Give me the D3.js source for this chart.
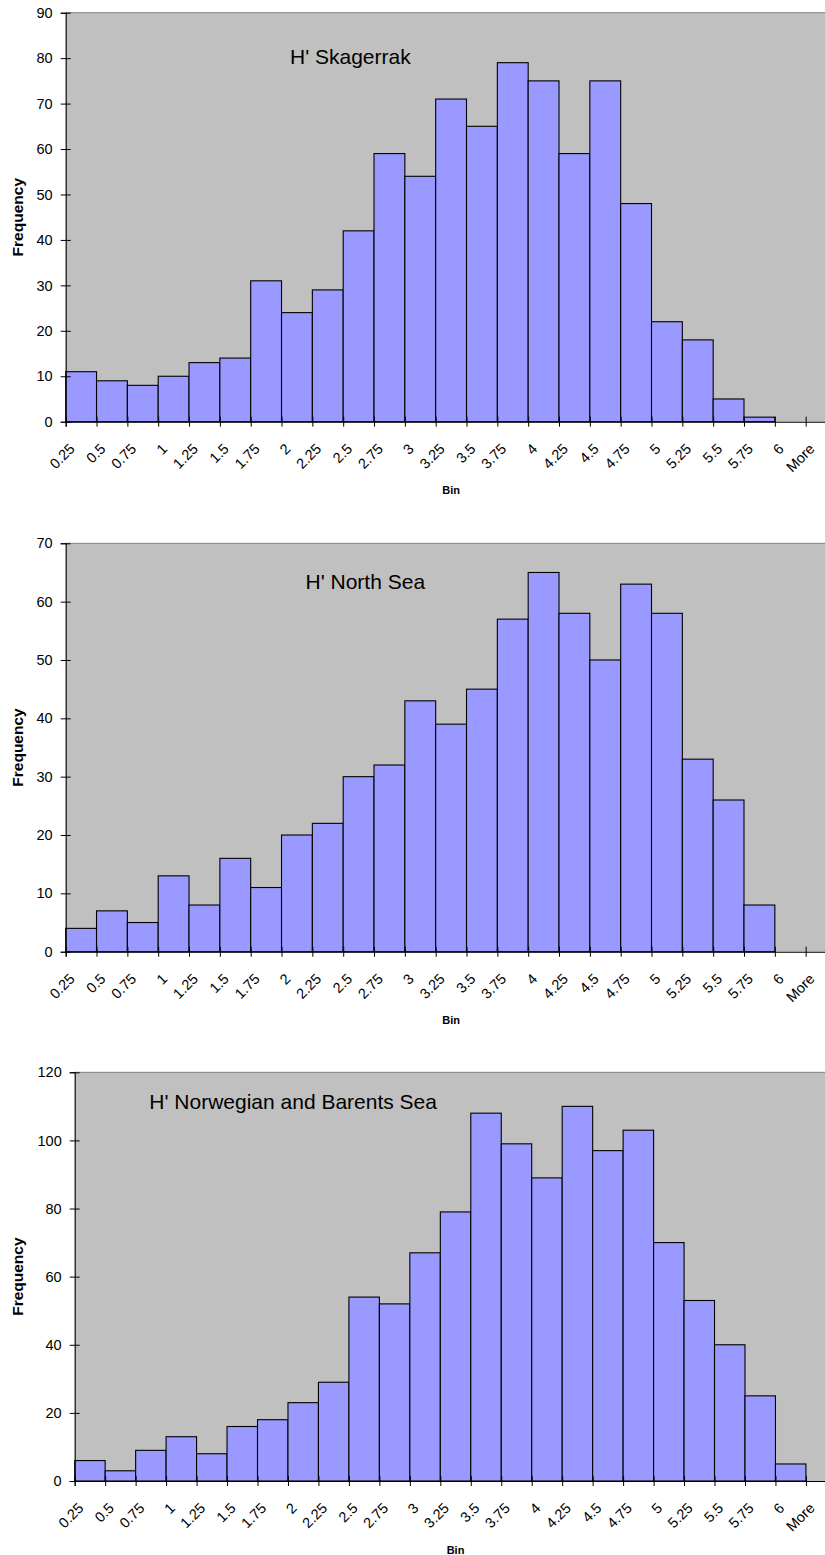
<!DOCTYPE html>
<html>
<head>
<meta charset="utf-8">
<script src="https://cdn.jsdelivr.net/npm/d3@7"></script>
<style>
  html, body { margin: 0; padding: 0; background: #fff; }
  svg { display: block; }
  text { font-family: Arial, "Liberation Sans", sans-serif; fill: #000; }
</style>
</head>
<body>
<svg id="chart" width="825" height="1555"></svg>
<script>
// ---------- data ----------
const bins = ["0.25","0.5","0.75","1","1.25","1.5","1.75","2","2.25","2.5","2.75","3",
              "3.25","3.5","3.75","4","4.25","4.5","4.75","5","5.25","5.5","5.75","6","More"];

const skagerrakFreq = [11,9,8,10,13,14,31,24,29,42,59,54,71,65,79,75,59,75,48,22,18,5,1,0,0];
const northSeaFreq  = [4,7,5,13,8,16,11,20,22,30,32,43,39,45,57,65,58,50,63,58,33,26,8,0,0];
const norwegianFreq = [6,3,9,13,8,16,18,23,29,54,52,67,79,108,99,89,110,97,103,70,53,40,25,5,0];

const skagerrakTicks = [0,10,20,30,40,50,60,70,80,90];
const northSeaTicks  = [0,10,20,30,40,50,60,70];
const norwegianTicks = [0,20,40,60,80,100,120];

const titles = ["H' Skagerrak", "H' North Sea", "H' Norwegian and Barents Sea"];
const yAxisTitle = "Frequency";
const xAxisTitle = "Bin";

// ---------- layout ----------
const panels = [
  { values: skagerrakFreq, ticks: skagerrakTicks, title: titles[0],
    left: 65.7, right: 836.5, top: 12.7, bottom: 421.7, titleX: 290, titleY: 64 },
  { values: northSeaFreq, ticks: northSeaTicks, title: titles[1],
    left: 65.7, right: 836.5, top: 543.3, bottom: 951.7, titleX: 305.5, titleY: 589 },
  { values: norwegianFreq, ticks: norwegianTicks, title: titles[2],
    left: 74.7, right: 836.4, top: 1072.3, bottom: 1481, titleX: 149.3, titleY: 1109 }
];

const svg = d3.select("#chart");

panels.forEach(p => {
  const g = svg.append("g");
  const x = d3.scaleBand().domain(bins).range([p.left, p.right]).padding(0);
  const xb = d3.scaleLinear().domain([0, bins.length]).range([p.left, p.right]);
  const yMax = p.ticks[p.ticks.length - 1];
  const y = d3.scaleLinear().domain([0, yMax]).range([p.bottom, p.top]);

  // plot area
  g.append("rect")
    .attr("x", p.left).attr("y", p.top)
    .attr("width", p.right - p.left).attr("height", p.bottom - p.top)
    .attr("fill", "#c0c0c0");
  g.append("line")
    .attr("x1", p.left).attr("x2", p.right)
    .attr("y1", p.top).attr("y2", p.top)
    .attr("stroke", "#808080").attr("stroke-width", 1);

  // bars
  g.selectAll("rect.bar")
    .data(bins.map((b, i) => ({ b, v: p.values[i] })).filter(d => d.v > 0))
    .join("rect")
    .attr("class", "bar")
    .attr("x", d => x(d.b))
    .attr("y", d => y(d.v))
    .attr("width", x.bandwidth())
    .attr("height", d => y(0) - y(d.v))
    .attr("fill", "#9999ff")
    .attr("stroke", "#000")
    .attr("stroke-width", 1.1);

  // y axis
  const yAxis = g.append("g")
    .attr("transform", `translate(${p.left},0)`)
    .call(d3.axisLeft(y).tickValues(p.ticks).tickSize(5).tickPadding(8).tickFormat(d3.format("d")));
  yAxis.select(".domain").attr("stroke", "#000").attr("stroke-width", 1.1);
  yAxis.selectAll(".tick line").attr("x1", 5).attr("stroke", "#000");
  yAxis.selectAll(".tick text")
    .style("font-family", "Arial, 'Liberation Sans', sans-serif")
    .style("font-size", "14.5px").attr("fill", "#000");

  // x axis (ticks on bin boundaries)
  const xAxis = g.append("g")
    .attr("transform", `translate(0,${p.bottom})`)
    .call(d3.axisBottom(xb).tickValues(d3.range(0, bins.length + 1)).tickSize(5).tickFormat(""));
  xAxis.select(".domain").attr("stroke", "#000").attr("stroke-width", 1.1);
  xAxis.selectAll(".tick line").attr("y1", -5).attr("stroke", "#000");

  // x tick labels, rotated
  g.selectAll("text.xlab")
    .data(bins)
    .join("text")
    .attr("class", "xlab")
    .attr("transform", d => `translate(${x(d) + x.bandwidth() / 2 - 5.5},${p.bottom + 28}) rotate(-45)`)
    .attr("text-anchor", "end")
    .style("font-size", "14.5px")
    .text(d => d);

  // title
  g.append("text")
    .attr("x", p.titleX).attr("y", p.titleY)
    .style("font-size", "21px")
    .text(p.title);

  // axis titles
  g.append("text")
    .attr("transform", `translate(22.5,${(p.top + p.bottom) / 2}) rotate(-90)`)
    .attr("text-anchor", "middle")
    .style("font-size", "15.5px").style("font-weight", "bold")
    .text(yAxisTitle);
  g.append("text")
    .attr("x", (p.left + p.right) / 2).attr("y", p.bottom + 72.5)
    .attr("text-anchor", "middle")
    .style("font-size", "11px").style("font-weight", "bold")
    .text(xAxisTitle);
});
</script>
</body>
</html>
